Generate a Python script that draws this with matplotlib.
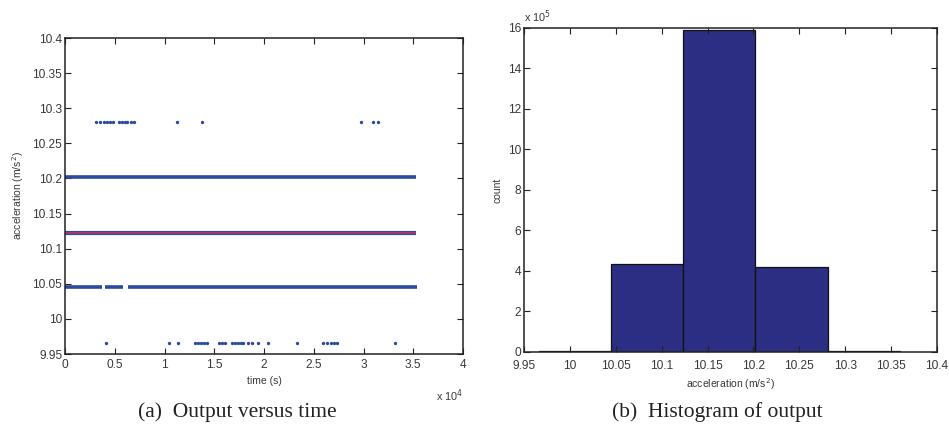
import numpy as np
from matplotlib import pyplot as plt
from matplotlib.ticker import FuncFormatter

# quantised accelerometer output, m/s^2
LEVELS = [9.966, 10.045, 10.123, 10.202, 10.281]

# continuous runs of samples: (level, start s, end s)
runs = [
    (10.202, 0, 35300),
    (10.045, 0, 3690),
    (10.045, 4020, 5860),
    (10.045, 6360, 35360),
]
mean_level = 10.123
mean_run = (0, 35300)

# isolated samples on the outer levels
t_high = [3085, 3518, 3920, 4221, 4523, 4824, 5427, 5729, 6030, 6231,
          6633, 6935, 11226, 13739, 29749, 30955, 31457]
t_low = [4090, 10452, 11387, 13065, 13367, 13668, 13970, 14271, 15477,
         15779, 16080, 16784, 17085, 17387, 17688, 17889, 18392, 18794,
         19397, 20402, 23317, 25930, 26332, 26734, 27035, 27337, 33166]

# histogram of the output
bin_edges = [9.966, 10.045, 10.123, 10.202, 10.281, 10.360]
bin_counts = [6000, 433000, 1588000, 421000, 6000]

BLUE = '#2b4a9e'
NAVY = '#2b2e82'
TICKCOL = '#383838'

plt.rcParams.update({'font.family': 'Liberation Sans', 'font.size': 8.6})


def matlab_axes(ax, xpad):
    ax.tick_params(direction='in', top=True, right=True, length=4,
                   width=0.8, colors='#222222', labelcolor=TICKCOL)
    ax.tick_params(axis='x', pad=xpad)
    ax.tick_params(axis='y', pad=2)
    for s in ax.spines.values():
        s.set_linewidth(1.1)
        s.set_color('#222222')


fig = plt.figure(figsize=(9.49, 4.30), dpi=100)

# (a) output versus time
ax_t = fig.add_axes([0.0685, 0.1767, 0.4194, 0.7349])
for level, t0, t1 in runs:
    ax_t.hlines(level, t0, t1, color=BLUE, linewidth=2.6)
ax_t.hlines(mean_level, mean_run[0], mean_run[1], color=BLUE, linewidth=3.0)
ax_t.hlines(mean_level, mean_run[0], mean_run[1], color='#a23a72', linewidth=1.6)
ax_t.plot(t_high, [LEVELS[4]] * len(t_high), '.', color=BLUE, markersize=2.8)
ax_t.plot(t_low, [LEVELS[0]] * len(t_low), '.', color=BLUE, markersize=2.8)

ax_t.set_xlim(0, 40000)
ax_t.set_ylim(9.95, 10.4)
ax_t.set_xticks(np.arange(0, 40001, 5000))
ax_t.xaxis.set_major_formatter(FuncFormatter(lambda v, p: f"{v / 1e4:g}"))
ax_t.set_yticks(np.arange(9.95, 10.401, 0.05))
ax_t.yaxis.set_major_formatter(FuncFormatter(lambda v, p: f"{v:g}"))
matlab_axes(ax_t, 3.5)
ax_t.set_xlabel('time (s)', fontsize=7.5, color=TICKCOL, labelpad=4)
ax_t.set_ylabel('acceleration (m/s$^2$)', fontsize=7.5, color=TICKCOL, labelpad=5)
ax_t.text(1.0, -0.105, r'x 10$^4$', transform=ax_t.transAxes,
          ha='right', va='top', fontsize=7.8, color=TICKCOL)

# (b) histogram of output
ax_h = fig.add_axes([0.5522, 0.1814, 0.4352, 0.7535])
ax_h.bar(bin_edges[:-1], bin_counts, width=np.diff(bin_edges), align='edge',
         color=NAVY, edgecolor='#111111', linewidth=0.9)
ax_h.set_xlim(9.95, 10.4)
ax_h.set_ylim(0, 1600000)
ax_h.set_xticks(np.arange(9.95, 10.401, 0.05))
ax_h.xaxis.set_major_formatter(FuncFormatter(lambda v, p: f"{v:g}"))
ax_h.set_yticks(np.arange(0, 1600001, 200000))
ax_h.yaxis.set_major_formatter(FuncFormatter(lambda v, p: f"{v / 1e5:g}"))
matlab_axes(ax_h, 6)
ax_h.set_xlabel('acceleration (m/s$^2$)', fontsize=7.5, color=TICKCOL, labelpad=3)
ax_h.set_ylabel('count', fontsize=7.5, color=TICKCOL, labelpad=4)
ax_h.text(0.0, 1.01, r'x 10$^5$', transform=ax_h.transAxes,
          ha='left', va='bottom', fontsize=7.8, color=TICKCOL)

# sub-figure captions
fig.text(0.250, 0.042, '(a)  Output versus time', ha='center', va='center',
         family='Liberation Serif', fontsize=15.5, color='#222222')
fig.text(0.756, 0.042, '(b)  Histogram of output', ha='center', va='center',
         family='Liberation Serif', fontsize=15.5, color='#222222')

plt.savefig('out.png', dpi=100)
plt.close()
